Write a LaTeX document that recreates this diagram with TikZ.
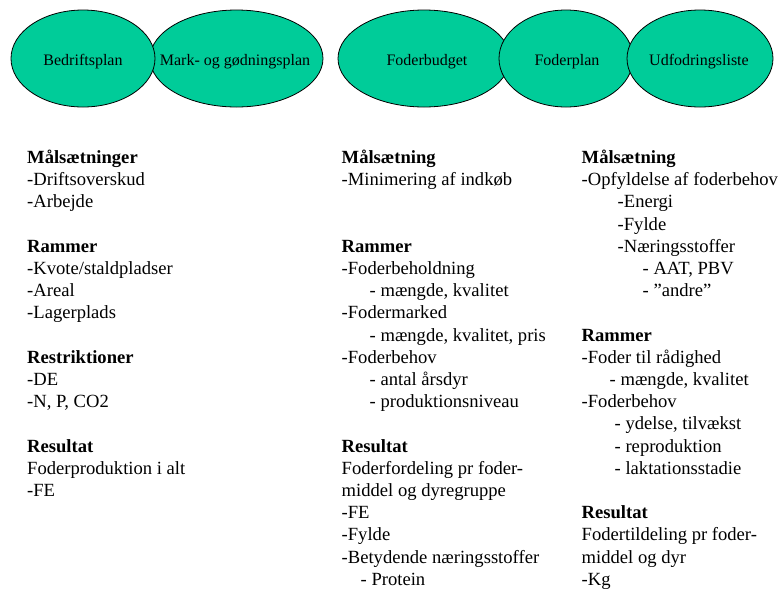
\documentclass[tikz,border=0pt]{standalone}
\usepackage{fontspec}
\setmainfont{Liberation Serif}
\definecolor{planfill}{RGB}{0,204,153}
\tikzset{
  plan/.style={draw=black, line width=0.8pt, fill=planfill},
  planlabel/.style={anchor=base, inner sep=0pt, font=\fontsize{16}{18}\selectfont},
  txt/.style={anchor=base west, inner sep=0pt, font=\fontsize{18.6}{22}\selectfont},
}
\begin{document}
\begin{tikzpicture}[x=1pt, y=-1pt]
  \useasboundingbox (0,0) rectangle (779,590);

  % planning stages, each one drawn over its left neighbour
  \path[plan] (236.5,58.5) ellipse [x radius=86.5pt, y radius=48.5pt];
  \node[planlabel] (mark) at (235,65) {Mark- og gødningsplan};
  \path[plan] (83,58.5) ellipse [x radius=72pt, y radius=48.5pt];
  \node[planlabel] (bedrift) at (83,65) {Bedriftsplan};
  \path[plan] (424,58.5) ellipse [x radius=86pt, y radius=48.5pt];
  \node[planlabel] (budget) at (427,65) {Foderbudget};
  \path[plan] (566,58.5) ellipse [x radius=67pt, y radius=48.5pt];
  \node[planlabel] (foderplan) at (567,65) {Foderplan};
  \path[plan] (700,58.5) ellipse [x radius=73pt, y radius=48.5pt];
  \node[planlabel] (udfodring) at (699,65) {Udfodringsliste};

  % column under Bedriftsplan / Mark- og gødningsplan
  \foreach \i/\dx/\t in {
      0/0/{\textbf{Målsætninger}},
      1/0/{-Driftsoverskud},
      2/0/{-Arbejde},
      4/0/{\textbf{Rammer}},
      5/0/{-Kvote/staldpladser},
      6/0/{-Areal},
      7/0/{-Lagerplads},
      9/0/{\textbf{Restriktioner}},
      10/0/{-DE},
      11/0/{-N, P, CO2},
      13/0/{\textbf{Resultat}},
      14/0/{Foderproduktion i alt},
      15/0/{-FE}}
    \node[txt] (a\i) at ({27+\dx},{163.5+\i*22.2}) {\t};

  % column under Foderbudget
  \foreach \i/\dx/\t in {
      0/0/{\textbf{Målsætning}},
      1/0/{-Minimering af indkøb},
      4/0/{\textbf{Rammer}},
      5/0/{-Foderbeholdning},
      6/28/{- mængde, kvalitet},
      7/0/{-Fodermarked},
      8/28/{- mængde, kvalitet, pris},
      9/0/{-Foderbehov},
      10/28/{- antal årsdyr},
      11/28/{- produktionsniveau},
      13/0/{\textbf{Resultat}},
      14/0/{Foderfordeling pr foder-},
      15/0/{middel og dyregruppe},
      16/0/{-FE},
      17/0/{-Fylde},
      18/0/{-Betydende næringsstoffer},
      19/19/{- Protein}}
    \node[txt] (b\i) at ({341.5+\dx},{163.5+\i*22.2}) {\t};

  % column under Foderplan / Udfodringsliste
  \foreach \i/\dx/\t in {
      0/0/{\textbf{Målsætning}},
      1/0/{-Opfyldelse af foderbehov},
      2/36/{-Energi},
      3/36/{-Fylde},
      4/36/{-Næringsstoffer},
      5/61/{- AAT, PBV},
      6/61/{- ”andre”},
      8/0/{\textbf{Rammer}},
      9/0/{-Foder til rådighed},
      10/28/{- mængde, kvalitet},
      11/0/{-Foderbehov},
      12/33/{- ydelse, tilvækst},
      13/33/{- reproduktion},
      14/33/{- laktationsstadie},
      16/0/{\textbf{Resultat}},
      17/0/{Fodertildeling pr foder-},
      18/0/{middel og dyr},
      19/0/{-Kg}}
    \node[txt] (c\i) at ({581.5+\dx},{163.5+\i*22.2}) {\t};
\end{tikzpicture}
\end{document}
